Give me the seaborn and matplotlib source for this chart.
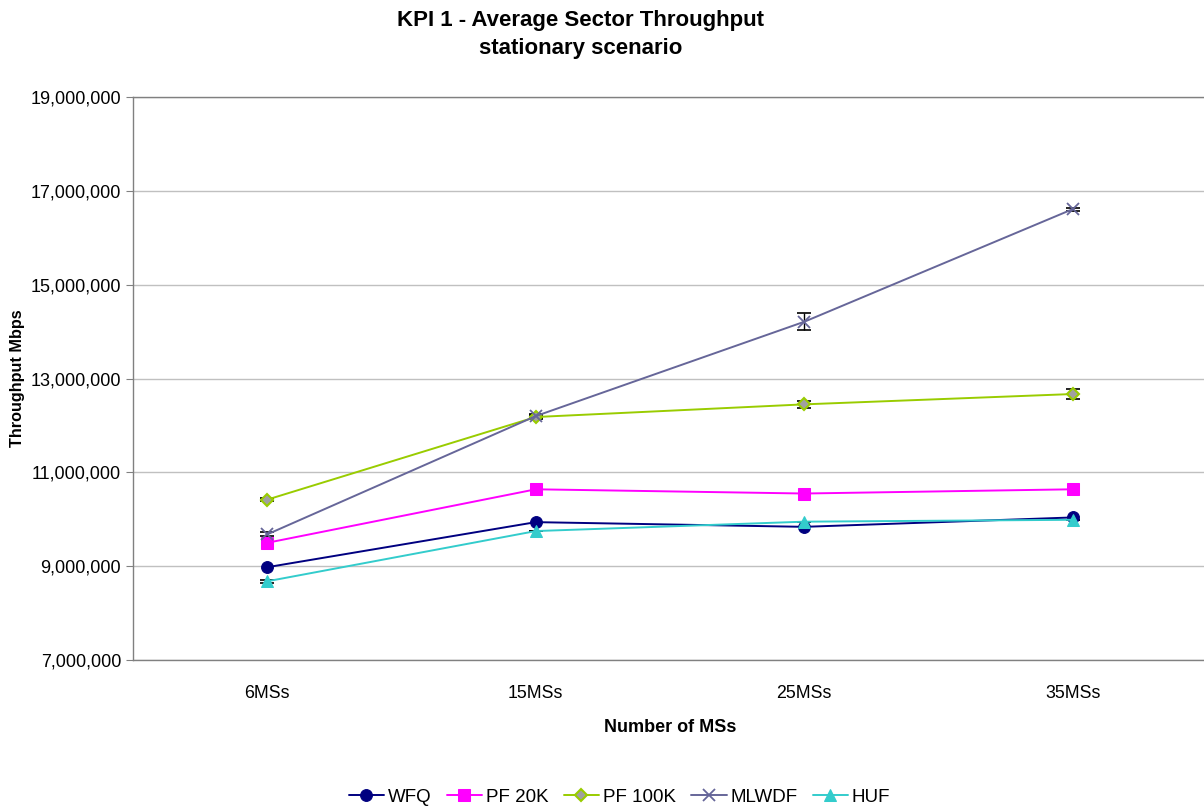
import pandas as pd
import matplotlib.pyplot as plt
import matplotlib.ticker as mticker
import seaborn as sns

# datos
categorias = ["6MSs", "15MSs", "25MSs", "35MSs"]
wfq = [8980000, 9940000, 9840000, 10040000]
pf20k = [9500000, 10640000, 10550000, 10640000]
pf100k = [10420000, 12180000, 12450000, 12670000]
mlwdf = [9680000, 12200000, 14210000, 16610000]
huf = [8680000, 9750000, 9950000, 9990000]

err_wfq = [0, 0, 0, 0]
err_pf20k = [0, 0, 0, 0]
err_pf100k = [30000, 40000, 80000, 100000]
err_mlwdf = [40000, 40000, 180000, 30000]
err_huf = [30000, 0, 0, 0]

series = {
    "WFQ": (wfq, err_wfq),
    "PF 20K": (pf20k, err_pf20k),
    "PF 100K": (pf100k, err_pf100k),
    "MLWDF": (mlwdf, err_mlwdf),
    "HUF": (huf, err_huf),
}

estilos = {
    "WFQ": dict(color="#000080", marker="o", markersize=8.5, markerfacecolor="#000080", markeredgecolor="#000080"),
    "PF 20K": dict(color="#FF00FF", marker="s", markersize=8.5, markerfacecolor="#FF00FF", markeredgecolor="#FF00FF"),
    "PF 100K": dict(color="#99CC00", marker="D", markersize=6.5, markerfacecolor="#A0A0A0", markeredgecolor="#99CC00", markeredgewidth=1.5),
    "MLWDF": dict(color="#666699", marker="x", markersize=8, markeredgecolor="#666699", markeredgewidth=1.3),
    "HUF": dict(color="#33CCCC", marker="^", markersize=8.5, markerfacecolor="#33CCCC", markeredgecolor="#33CCCC"),
}

sns.set_style("white")
plt.rcParams["font.family"] = ["Liberation Sans", "DejaVu Sans"]
plt.rcParams["text.color"] = "black"
plt.rcParams["axes.labelcolor"] = "black"
plt.rcParams["xtick.color"] = "black"
plt.rcParams["ytick.color"] = "black"

fig = plt.figure(figsize=(12.04, 8.06), dpi=100)
ax = fig.add_axes([0.1105, 0.181, 0.892, 0.6987])

for nombre, (valores, errores) in series.items():
    df = pd.DataFrame({"x": range(len(categorias)), "y": valores})
    sns.lineplot(data=df, x="x", y="y", ax=ax, label=nombre, linewidth=1.4, zorder=3, **estilos[nombre])
    if any(errores):
        ax.errorbar(range(len(categorias)), valores, yerr=errores, fmt="none",
                    ecolor="black", elinewidth=1, capsize=5, capthick=1.2, zorder=2)

ax.set_xlim(-0.5, 3.5)
ax.set_ylim(7000000, 19000000)
ax.set_yticks(range(7000000, 19000001, 2000000))
ax.yaxis.set_major_formatter(mticker.FuncFormatter(lambda v, p: f"{int(v):,}"))
ax.set_xticks(range(len(categorias)))
ax.set_xticklabels(categorias)
ax.set_xticks([0.5, 1.5, 2.5], minor=True)
ax.tick_params(axis="x", which="major", length=0, pad=18, labelsize=12.8)
ax.tick_params(axis="x", which="minor", length=5, color="#808080", direction="out")
ax.tick_params(axis="y", length=5, color="#808080", labelcolor="black", direction="out", labelsize=13, left=True)
ax.grid(axis="y", color="#C0C0C0", linewidth=1)
ax.set_axisbelow(True)

for lado in ["left", "bottom", "top"]:
    ax.spines[lado].set_color("#808080")
    ax.spines[lado].set_linewidth(1)
ax.spines["right"].set_visible(False)

ax.set_xlabel("Number of MSs", fontsize=13, fontweight="bold", labelpad=12)
ax.set_ylabel("Throughput Mbps", fontsize=11.7, fontweight="bold", labelpad=4)

fig.text(0.482, 0.987, "KPI 1 - Average Sector Throughput\nstationary scenario",
         ha="center", va="top", fontsize=16, fontweight="bold", linespacing=1.4)

ax.legend(loc="center", bbox_to_anchor=(0.453, -0.243), ncol=5, frameon=False,
          fontsize=13.5, handlelength=1.9, columnspacing=0.8, handletextpad=0.2)

fig.savefig("out.png", dpi=100)
